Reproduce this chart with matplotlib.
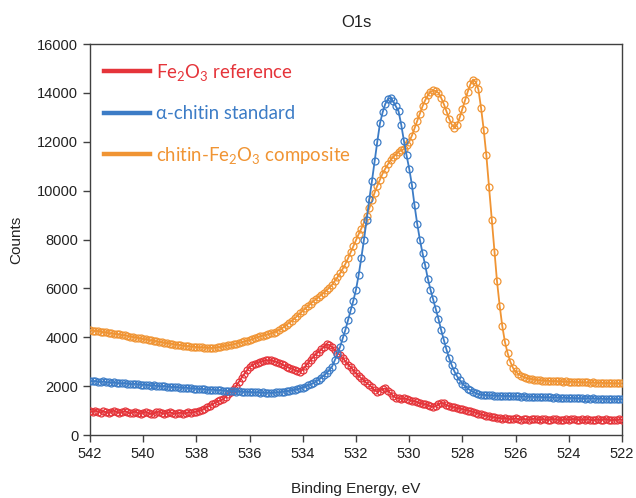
import numpy as np
import matplotlib
matplotlib.use("Agg")
import matplotlib.pyplot as plt
from matplotlib.lines import Line2D

# Binding energy grid (eV), 0.1 eV step from 542.0 down to 522.0
energy = np.round(np.arange(542.0, 521.95, -0.1), 1)

fe2o3 = [
    980, 950, 1000, 960, 920, 970, 940, 900, 960, 1000,      # 542.0-541.1
    950, 910, 930, 980, 940, 890, 920, 960, 900, 870,        # 541.0-540.1
    920, 950, 900, 860, 880, 930, 960, 900, 870, 900,        # 540.0-539.1
    940, 890, 870, 900, 920, 880, 900, 930, 910, 940,        # 539.0-538.1
    960, 990, 1030, 1080, 1140, 1200, 1260, 1320, 1380, 1420,  # 538.0-537.1
    1460, 1560, 1680, 1780, 1870, 2020, 2180, 2350, 2500, 2650,  # 537.0-536.1
    2780, 2860, 2920, 2960, 3000, 3030, 3060, 3050, 3070, 3030,  # 536.0-535.1
    3000, 2960, 2900, 2850, 2800, 2740, 2720, 2650, 2620, 2590,  # 535.0-534.1
    2680, 2820, 2950, 3080, 3200, 3330, 3400, 3500, 3620, 3720,  # 534.0-533.1
    3680, 3600, 3480, 3350, 3280, 3150, 3020, 2880, 2780, 2650,  # 533.0-532.1
    2520, 2420, 2320, 2230, 2120, 2050, 1950, 1830, 1770, 1820,  # 532.0-531.1
    1880, 1910, 1820, 1700, 1600, 1520, 1500, 1480, 1500, 1480,  # 531.0-530.1
    1450, 1400, 1380, 1350, 1300, 1280, 1250, 1230, 1180, 1150,  # 530.0-529.1
    1180, 1260, 1320, 1300, 1220, 1180, 1150, 1130, 1100, 1080,  # 529.0-528.1
    1060, 1030, 1000, 980, 950, 920, 880, 840, 820, 790,         # 528.0-527.1
    770, 740, 720, 700, 690, 670, 700, 660, 640, 660,            # 527.0-526.1
    680, 650, 630, 660, 640, 620, 650, 670, 640, 620,            # 526.0-525.1
    650, 640, 610, 630, 660, 640, 620, 600, 630, 650,            # 525.0-524.1
    620, 640, 660, 630, 610, 640, 620, 650, 630, 600,            # 524.0-523.1
    620, 640, 610, 630, 650, 620, 600, 630, 610, 640,            # 523.0-522.1
    620,                                                         # 522.0
]

chitin = [
    2220, 2200, 2210, 2180, 2170, 2190, 2160, 2150, 2140, 2160,
    2130, 2120, 2110, 2130, 2100, 2090, 2080, 2100, 2070, 2060,
    2050, 2060, 2040, 2020, 2030, 2010, 2000, 1990, 2010, 1980,
    1970, 1960, 1970, 1950, 1940, 1930, 1940, 1920, 1910, 1900,
    1890, 1880, 1890, 1870, 1860, 1850, 1860, 1840, 1830, 1840,
    1820, 1810, 1800, 1810, 1790, 1780, 1790, 1770, 1760, 1770,
    1760, 1750, 1740, 1750, 1730, 1740, 1720, 1730, 1720, 1730,
    1740, 1750, 1760, 1780, 1790, 1810, 1830, 1850, 1880, 1910,
    1940, 1980, 2030, 2080, 2130, 2190, 2260, 2350, 2440, 2540,
    2660, 2800, 3050, 3300, 3600, 3950, 4300, 4700, 5100, 5500,
    5950, 6550, 7250, 8000, 8800, 9650, 10400, 11200, 12000, 12750,
    13200, 13550, 13750, 13800, 13650, 13450, 13250, 12700, 12050, 11450,
    10900, 10250, 9400, 8650, 8000, 7450, 6950, 6400, 5950, 5550,
    5150, 4750, 4300, 3900, 3500, 3150, 2850, 2600, 2400, 2250,
    2100, 2000, 1900, 1830, 1770, 1720, 1680, 1650, 1640, 1630,
    1620, 1620, 1610, 1600, 1610, 1600, 1590, 1600, 1590, 1580,
    1590, 1580, 1570, 1580, 1570, 1560, 1570, 1560, 1550, 1560,
    1550, 1540, 1550, 1540, 1530, 1540, 1530, 1520, 1530, 1520,
    1510, 1520, 1510, 1500, 1510, 1500, 1490, 1500, 1490, 1500,
    1490, 1480, 1490, 1480, 1470, 1480, 1470, 1480, 1470, 1460,
    1470,
]

composite = [
    4280, 4270, 4250, 4260, 4230, 4200, 4210, 4170, 4160, 4150,
    4130, 4120, 4090, 4080, 4070, 4030, 4020, 3990, 3980, 3950,
    3930, 3920, 3890, 3870, 3860, 3830, 3810, 3800, 3770, 3760,
    3740, 3730, 3700, 3690, 3680, 3660, 3640, 3640, 3620, 3610,
    3600, 3590, 3590, 3580, 3570, 3570, 3560, 3580, 3590, 3600,
    3630, 3650, 3670, 3690, 3720, 3740, 3770, 3800, 3830, 3860,
    3890, 3930, 3970, 4010, 4040, 4070, 4100, 4130, 4160, 4190,
    4230, 4290, 4360, 4430, 4520, 4600, 4680, 4780, 4880, 4980,
    5080, 5180, 5280, 5380, 5480, 5560, 5650, 5740, 5830, 5930,
    6030, 6150, 6300, 6450, 6620, 6800, 7000, 7230, 7480, 7730,
    7980, 8220, 8450, 8700, 8980, 9280, 9600, 9920, 10200, 10450,
    10700, 10900, 11080, 11250, 11380, 11480, 11600, 11650, 11700, 11850,
    12000, 12250, 12550, 12850, 13150, 13450, 13700, 13900, 14050, 14100,
    14080, 14000, 13800, 13550, 13250, 12950, 12700, 12580, 12700, 13000,
    13350, 13700, 14050, 14350, 14550, 14450, 14150, 13400, 12500, 11450,
    10150, 8800, 7500, 6300, 5300, 4450, 3800, 3350, 3000, 2750,
    2600, 2500, 2430, 2380, 2340, 2310, 2290, 2270, 2250, 2240,
    2230, 2220, 2220, 2210, 2200, 2210, 2190, 2200, 2180, 2190,
    2170, 2180, 2170, 2160, 2170, 2150, 2160, 2150, 2140, 2150,
    2140, 2130, 2140, 2130, 2120, 2130, 2120, 2110, 2120, 2110,
    2110,
]

labels = ["Fe$\\mathregular{_2}$O$\\mathregular{_3}$ reference",
          "\u03b1-chitin standard",
          "chitin-Fe$\\mathregular{_2}$O$\\mathregular{_3}$ composite"]
colors = ["#E5343A", "#3C7CC6", "#F09433"]
xticks = [542, 540, 538, 536, 534, 532, 530, 528, 526, 524, 522]
yticks = [0, 2000, 4000, 6000, 8000, 10000, 12000, 14000, 16000]

plt.rcParams['font.family'] = ['Liberation Sans', 'DejaVu Sans']

fig = plt.figure(figsize=(6.36, 4.98), dpi=100)
ax = fig.add_axes([0.1415, 0.1265, 0.8365, 0.785])

series = [fe2o3, composite, chitin]
cols = [colors[0], colors[2], colors[1]]
for vals, c in zip(series, cols):
    ax.plot(energy, vals, color=c, lw=1.3, marker='o', ms=5.0,
            mfc='none', mec=c, mew=0.9, zorder=3)

ax.set_xlim(542, 522)
ax.set_ylim(0, 16000)
ax.set_xticks(xticks)
ax.set_yticks(yticks)
ax.tick_params(axis='both', direction='out', length=5, width=1,
               color='#404040', labelsize=10.5, labelcolor='#222222')
for s in ax.spines.values():
    s.set_color('#404040')
    s.set_linewidth(1)

ax.set_title("O1s", fontsize=12, pad=12, color='#222222')
ax.set_xlabel("Binding Energy, eV", fontsize=11, labelpad=15, color='#222222')
ax.set_ylabel("Counts", fontsize=11, labelpad=10, color='#222222')

handles = [Line2D([], [], color=c, lw=3.2) for c in colors]
leg = ax.legend(handles, labels, loc='upper left', frameon=False,
                prop={'family': 'Lato', 'size': 13.4},
                handlelength=2.5, handletextpad=0.27, labelspacing=1.2,
                bbox_to_anchor=(0.0, 0.99), borderaxespad=0.35)
for t, c in zip(leg.get_texts(), colors):
    t.set_color(c)

fig.savefig("out.png", dpi=100)
